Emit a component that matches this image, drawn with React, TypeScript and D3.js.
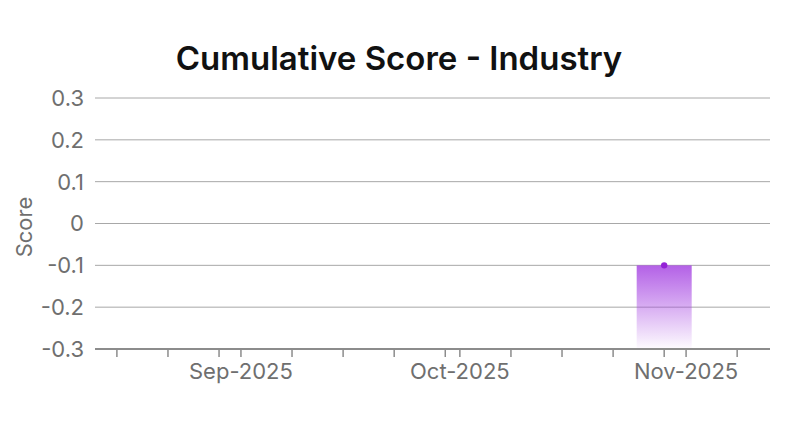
import * as d3 from "d3";
import React from "react";

// data
const dates = ["2025-10-29"];
const scores = [-0.1];
const yTicks = [-0.3, -0.2, -0.1, 0, 0.1, 0.2, 0.3];
const xDomain = ["2025-08-12T00:00", "2025-11-12T12:00"];

const W = 800;
const H = 431;
const margin = { top: 98, right: 30, bottom: 82, left: 95 };
const FONT = "Inter, 'Noto Sans', sans-serif";

export default function App() {
  const ref = React.useRef<SVGSVGElement>(null);

  React.useEffect(() => {
    if (!ref.current) return;
    const root = d3.select(ref.current);
    root.selectAll("*").remove();

    const parse = d3.timeParse("%Y-%m-%d");
    const parseFull = d3.timeParse("%Y-%m-%dT%H:%M");
    const data = dates.map((d, i) => ({ date: parse(d)!, value: scores[i] }));

    const width = W - margin.left - margin.right;
    const height = H - margin.top - margin.bottom;

    const x = d3
      .scaleTime()
      .domain(xDomain.map((d) => parseFull(d)!) as [Date, Date])
      .range([0, width]);
    const y = d3.scaleLinear().domain([-0.3, 0.3]).range([height, 0]);

    // gradient
    const defs = root.append("defs");
    const grad = defs
      .append("linearGradient")
      .attr("id", "barGrad")
      .attr("x1", 0)
      .attr("y1", 0)
      .attr("x2", 0)
      .attr("y2", 1);
    grad.append("stop").attr("offset", "0%").attr("stop-color", "#a645e2").attr("stop-opacity", 0.85);
    grad.append("stop").attr("offset", "100%").attr("stop-color", "#a645e2").attr("stop-opacity", 0.02);

    // title
    root
      .append("text")
      .attr("x", 399)
      .attr("y", 70)
      .attr("text-anchor", "middle")
      .style("font-family", FONT)
      .style("font-size", "33px")
      .style("font-weight", 600)
      .attr("fill", "#111")
      .text("Cumulative Score - Industry");

    const g = root.append("g").attr("transform", `translate(${margin.left},${margin.top})`);

    // grid
    g.append("g")
      .selectAll("line")
      .data(yTicks.filter((t) => t !== -0.3))
      .enter()
      .append("line")
      .attr("x1", 0)
      .attr("x2", width)
      .attr("y1", (d) => y(d))
      .attr("y2", (d) => y(d))
      .attr("stroke", "#a8a8a8")
      .attr("stroke-width", 1);

    // y labels
    g.append("g")
      .selectAll("text")
      .data(yTicks)
      .enter()
      .append("text")
      .attr("x", -11)
      .attr("y", (d) => y(d))
      .attr("dy", "0.36em")
      .attr("text-anchor", "end")
      .style("font-family", FONT)
      .style("font-size", "22px")
      .attr("fill", "#6f6f6f")
      .text((d) => String(+d.toFixed(1)));

    // y title
    root
      .append("text")
      .attr("transform", `translate(32,227) rotate(-90)`)
      .attr("text-anchor", "middle")
      .style("font-family", FONT)
      .style("font-size", "22px")
      .attr("fill", "#6f6f6f")
      .text("Score");

    // bars
    const barW = 55;
    g.append("g")
      .selectAll("rect")
      .data(data)
      .enter()
      .append("rect")
      .attr("x", (d) => x(d.date) - barW / 2)
      .attr("y", (d) => y(d.value))
      .attr("width", barW)
      .attr("height", (d) => height - y(d.value))
      .attr("fill", "url(#barGrad)");

    // x axis
    const ticks = d3.timeDay.every(7)!.range(x.domain()[0], x.domain()[1]);
    const xa = g.append("g").attr("transform", `translate(0,${height})`);
    xa.append("line")
      .attr("x1", 0)
      .attr("x2", width)
      .attr("stroke", "#8c8c8c")
      .attr("stroke-width", 2);
    xa.selectAll("line.tick")
      .data(ticks)
      .enter()
      .append("line")
      .attr("class", "tick")
      .attr("x1", (d) => x(d))
      .attr("x2", (d) => x(d))
      .attr("y1", 0)
      .attr("y2", 8)
      .attr("stroke", "#8c8c8c")
      .attr("stroke-width", 1.5);
    xa.selectAll("text")
      .data(ticks.filter((d) => d.getDate() === 1))
      .enter()
      .append("text")
      .attr("x", (d) => x(d))
      .attr("y", 30)
      .attr("text-anchor", "middle")
      .style("font-family", FONT)
      .style("font-size", "22px")
      .attr("fill", "#6f6f6f")
      .text((d) => d3.timeFormat("%b-%Y")(d));

    // points
    g.append("g")
      .selectAll("circle")
      .data(data)
      .enter()
      .append("circle")
      .attr("cx", (d) => x(d.date))
      .attr("cy", (d) => y(d.value))
      .attr("r", 3.2)
      .attr("fill", "#9422d6");
  }, []);

  return (
    <svg
      ref={ref}
      width={W}
      height={H}
      style={{ position: "absolute", left: 0, top: 0, background: "#fff" }}
    />
  );
}
